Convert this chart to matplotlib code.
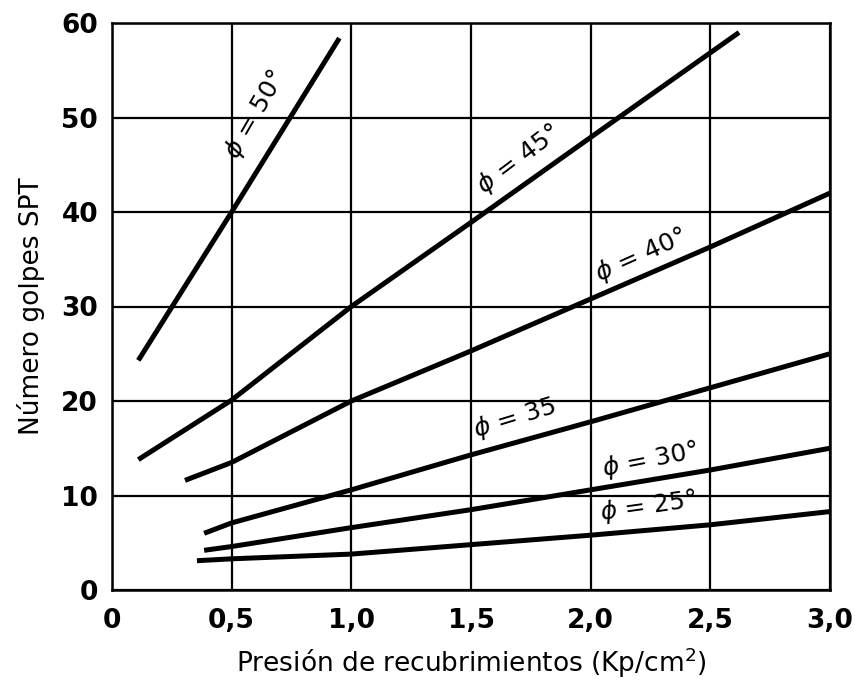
import matplotlib
matplotlib.use('Agg')
import matplotlib.pyplot as plt

plt.rcParams['font.family'] = ['DejaVu Sans']

# curvas (presion Kp/cm2, N golpes SPT)
x_50 = [0.11, 0.5, 0.95]
n_50 = [24.3, 40.0, 58.4]
x_45 = [0.11, 0.5, 1.0, 1.5, 2.0, 2.62]
n_45 = [13.8, 20.1, 30.0, 38.9, 47.9, 59.0]
x_40 = [0.305, 0.5, 1.0, 1.5, 2.0, 2.5, 3.0]
n_40 = [11.6, 13.5, 20.0, 25.3, 30.8, 36.3, 42.0]
x_35 = [0.385, 0.5, 1.0, 1.5, 2.0, 2.5, 3.0]
n_35 = [6.0, 7.1, 10.6, 14.3, 17.8, 21.4, 25.0]
x_30 = [0.385, 0.5, 1.0, 1.5, 2.0, 2.5, 3.0]
n_30 = [4.2, 4.6, 6.6, 8.5, 10.6, 12.7, 15.0]
x_25 = [0.355, 0.5, 1.0, 1.5, 2.0, 2.5, 3.0]
n_25 = [3.1, 3.3, 3.8, 4.8, 5.8, 6.9, 8.3]

labels = ['50°', '45°', '40°', '35', '30°', '25°']
xs = [x_50, x_45, x_40, x_35, x_30, x_25]
ns = [n_50, n_45, n_40, n_35, n_30, n_25]
# posicion y angulo de las etiquetas
lab_x = [0.60, 1.70, 2.21, 1.68, 2.25, 2.24]
lab_y = [50.3, 45.6, 35.4, 18.2, 13.8, 8.8]
lab_rot = [60, 37, 24, 17, 11, 8]

xticks = [0, 0.5, 1.0, 1.5, 2.0, 2.5, 3.0]
xticklabels = ['0', '0,5', '1,0', '1,5', '2,0', '2,5', '3,0']
yticks = [0, 10, 20, 30, 40, 50, 60]

fig = plt.figure(figsize=(8.55, 6.86), dpi=100)
ax = fig.add_axes([112 / 855, 1 - 590 / 686, 718 / 855, 567 / 686])

for xv, nv in zip(xs, ns):
    ax.plot(xv, nv, color='black', linewidth=3.6, solid_capstyle='butt', zorder=3)

for lab, lx, ly, rot in zip(labels, lab_x, lab_y, lab_rot):
    ax.text(lx, ly, r'$\phi$ = ' + lab, fontsize=18, rotation=rot,
            ha='center', va='center', rotation_mode='anchor', zorder=4)

ax.set_xlim(0, 3.0)
ax.set_ylim(0, 60)
ax.set_xticks(xticks)
ax.set_xticklabels(xticklabels)
ax.set_yticks(yticks)
ax.grid(True, color='black', linewidth=1.6)
ax.tick_params(length=0, labelsize=19)
ax.tick_params(axis='y', pad=10)
ax.tick_params(axis='x', pad=13)
for t in ax.get_xticklabels() + ax.get_yticklabels():
    t.set_fontweight('bold')
for sp in ax.spines.values():
    sp.set_linewidth(1.8)

ax.set_xlabel('Presión de recubrimientos (Kp/cm$^{2}$)', fontsize=19, labelpad=8)
ax.set_ylabel('Número golpes SPT', fontsize=19, labelpad=12)

plt.savefig('out.png', dpi=100)
